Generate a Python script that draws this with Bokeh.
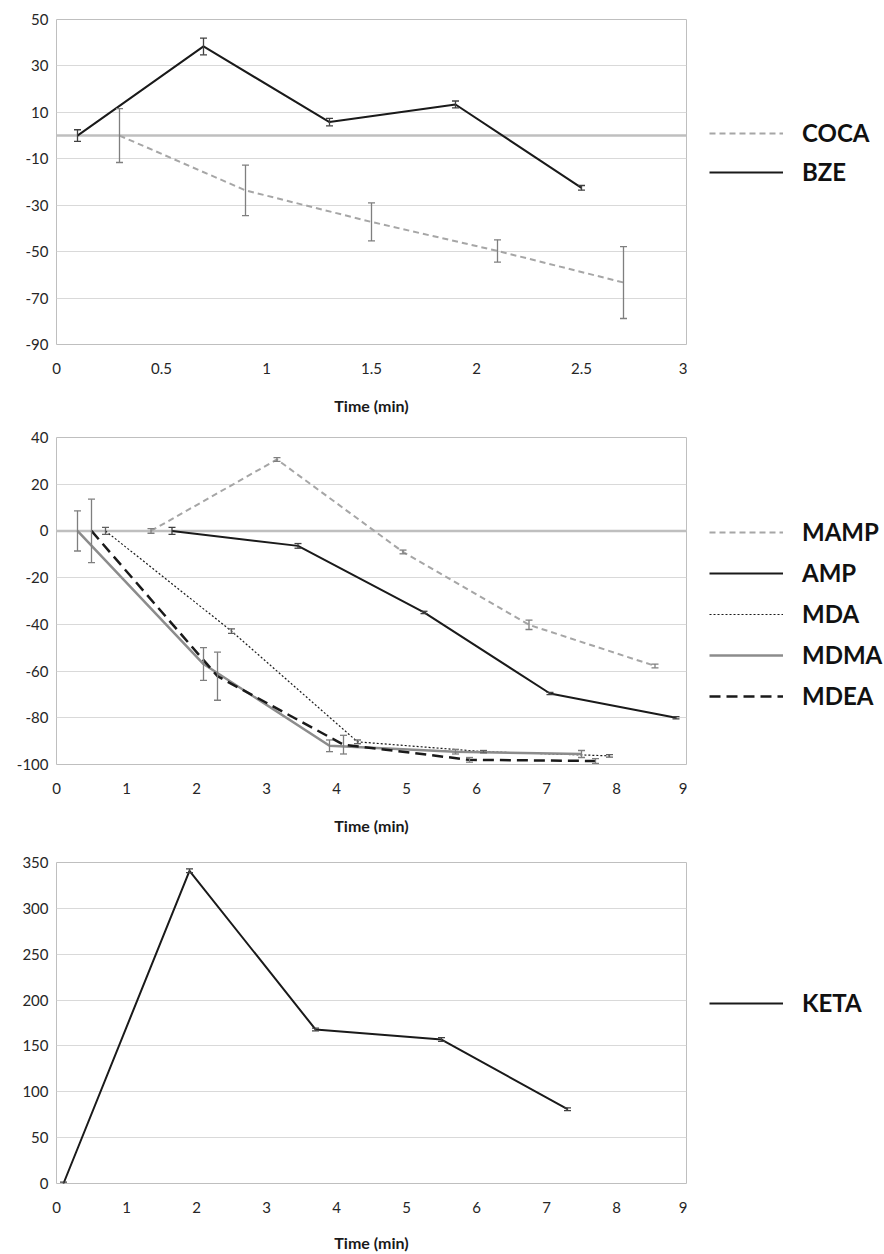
from bokeh.plotting import figure
from bokeh.models import Range1d, FixedTicker, Whisker, ColumnDataSource, Span, TeeHead, Legend, LegendItem
from bokeh.layouts import column, row
from bokeh.embed import file_html
from bokeh.resources import INLINE

# ---------------- data ----------------
# Panel 1
top_xticks = [0, 0.5, 1, 1.5, 2, 2.5, 3]
top_xlabels = ["0", "0.5", "1", "1.5", "2", "2.5", "3"]
top_yticks = [-90, -70, -50, -30, -10, 10, 30, 50]
top_ylabels = ["-90", "-70", "-50", "-30", "-10", "10", "30", "50"]

coca_x = [0.3, 0.9, 1.5, 2.1, 2.7]
coca_y = [0, -23.6, -37.2, -49.7, -63.3]
coca_err = [11.6, 10.9, 8.2, 4.8, 15.5]

bze_x = [0.1, 0.7, 1.3, 1.9, 2.5]
bze_y = [0, 38.4, 5.8, 13.4, -22.5]
bze_err = [2.5, 3.6, 1.6, 1.5, 1.0]

# Panel 2
mid_xticks = [0, 1, 2, 3, 4, 5, 6, 7, 8, 9]
mid_xlabels = ["0", "1", "2", "3", "4", "5", "6", "7", "8", "9"]
mid_yticks = [-100, -80, -60, -40, -20, 0, 20, 40]
mid_ylabels = ["-100", "-80", "-60", "-40", "-20", "0", "20", "40"]

mamp_x = [1.35, 3.15, 4.95, 6.75, 8.55]
mamp_y = [0, 30.6, -9.0, -40.2, -57.8]
mamp_err = [1.0, 0.8, 0.8, 2.0, 0.8]

amp_x = [1.65, 3.45, 5.25, 7.05, 8.85]
amp_y = [0, -6.4, -34.9, -69.6, -80.0]
amp_err = [1.5, 1.0, 0.5, 0.5, 0.5]

mda_x = [0.7, 2.5, 4.3, 6.1, 7.9]
mda_y = [0, -42.9, -90.3, -94.5, -96.3]
mda_err = [1.5, 1.0, 0.8, 0.5, 0.5]

mdma_x = [0.3, 2.1, 3.9, 5.7, 7.5]
mdma_y = [0, -57.0, -92.0, -94.5, -95.5]
mdma_err = [8.6, 7.0, 2.5, 1.0, 1.5]

mdea_x = [0.5, 2.3, 4.1, 5.9, 7.7]
mdea_y = [0, -62.2, -91.5, -98.0, -98.5]
mdea_err = [13.6, 10.3, 4.0, 1.0, 1.0]

# Panel 3
bot_xticks = [0, 1, 2, 3, 4, 5, 6, 7, 8, 9]
bot_xlabels = ["0", "1", "2", "3", "4", "5", "6", "7", "8", "9"]
bot_yticks = [0, 50, 100, 150, 200, 250, 300, 350]
bot_ylabels = ["0", "50", "100", "150", "200", "250", "300", "350"]

keta_x = [0.1, 1.9, 3.7, 5.5, 7.3]
keta_y = [0, 341, 168, 157, 81]
keta_err = [1.5, 2.0, 1.5, 2.0, 1.5]

x_title = "Time (min)"

FONT = "Lato"
GRID = "#d9d9d9"
ZERO = "#bfbfbf"
LGREY = "#a6a6a6"
DGREY = "#8c8c8c"
BLACK = "#1a1a1a"

CHART_W = 687
LEG_W = 884 - CHART_W


def make_fig(height, btop, bbottom, xr, yr, xticks, xlabels, yticks, ylabels, title_standoff):
    p = figure(width=CHART_W, height=height, x_range=Range1d(*xr), y_range=Range1d(*yr),
               output_backend="svg", toolbar_location=None,
               min_border_left=56, min_border_right=1,
               min_border_top=btop, min_border_bottom=bbottom)
    p.outline_line_color = ZERO
    p.outline_line_width = 1
    p.xgrid.grid_line_color = None
    p.ygrid.grid_line_color = GRID
    p.ygrid.grid_line_width = 1
    p.xaxis.ticker = FixedTicker(ticks=xticks)
    p.xaxis.major_label_overrides = {t: l for t, l in zip(xticks, xlabels)}
    p.yaxis.ticker = FixedTicker(ticks=yticks)
    p.yaxis.major_label_overrides = {t: l for t, l in zip(yticks, ylabels)}
    for ax in (p.xaxis, p.yaxis):
        ax.axis_line_color = None
        ax.major_tick_line_color = None
        ax.minor_tick_line_color = None
        ax.major_tick_in = 0
        ax.major_tick_out = 0
        ax.minor_tick_out = 0
        ax.major_label_text_font = FONT
        ax.major_label_text_font_size = "15px"
        ax.major_label_text_color = "#262626"
    p.xaxis.major_label_standoff = 18
    p.yaxis.major_label_standoff = 8
    p.xaxis.axis_label = x_title
    p.xaxis.axis_label_text_font = FONT
    p.xaxis.axis_label_text_font_style = "bold"
    p.xaxis.axis_label_text_font_size = "16px"
    p.xaxis.axis_label_text_color = "#1a1a1a"
    p.xaxis.axis_label_standoff = title_standoff
    return p


def add_series(p, x, y, err, color, width, dash, err_color):
    p.line(x, y, line_color=color, line_width=width, line_dash=dash)
    src = ColumnDataSource(dict(base=x, upper=[a + b for a, b in zip(y, err)],
                                lower=[a - b for a, b in zip(y, err)]))
    w = Whisker(source=src, base="base", upper="upper", lower="lower",
                line_color=err_color, line_width=1.3, level="annotation",
                upper_head=TeeHead(size=7, line_color=err_color, line_width=1.3),
                lower_head=TeeHead(size=7, line_color=err_color, line_width=1.3))
    p.add_layout(w)


def legend_fig(height, entries, loc, spacing):
    # separate, axis-less figure that only holds the legend (to the right of the chart);
    # its ranges keep the series' own lines out of view so only the legend shows
    lf = figure(width=LEG_W, height=height, x_range=Range1d(1000, 1001), y_range=Range1d(1000, 1001),
                output_backend="svg", toolbar_location=None,
                x_axis_location=None, y_axis_location=None,
                min_border_left=0, min_border_right=0, min_border_top=0, min_border_bottom=0)
    lf.grid.grid_line_color = None
    lf.outline_line_color = None
    items = []
    for label, x, y, color, width, dash in entries:
        r = lf.line(x, y, line_color=color, line_width=width, line_dash=dash)
        items.append(LegendItem(label=label, renderers=[r]))
    lg = Legend(items=items, location=loc, border_line_color=None, background_fill_alpha=0,
                padding=0, margin=0, spacing=spacing, glyph_width=74, glyph_height=24,
                label_height=24, label_standoff=19, label_text_font=FONT,
                label_text_font_style="bold", label_text_font_size="24px",
                label_text_color="#111111")
    lf.add_layout(lg)
    return lf


# ---------------- panel 1 ----------------
H1, H2, H3 = 422, 416, 416
p1 = make_fig(H1, 19, 78, (0, 3), (-90, 50), top_xticks, top_xlabels, top_yticks, top_ylabels, 19)
p1.add_layout(Span(location=0, dimension="width", line_color=ZERO, line_width=2.5, level="underlay"))
add_series(p1, coca_x, coca_y, coca_err, LGREY, 2, "6 4", "#7f7f7f")
add_series(p1, bze_x, bze_y, bze_err, BLACK, 2, "solid", "#404040")
l1 = legend_fig(H1, [("COCA", coca_x, coca_y, LGREY, 2, "6 4"),
                     ("BZE", bze_x, bze_y, BLACK, 2, "solid")], (22, 158), 10)

# ---------------- panel 2 ----------------
p2 = make_fig(H2, 15, 74, (0, 9), (-100, 40), mid_xticks, mid_xlabels, mid_yticks, mid_ylabels, 19)
p2.add_layout(Span(location=0, dimension="width", line_color=ZERO, line_width=2.5, level="underlay"))
add_series(p2, mamp_x, mamp_y, mamp_err, LGREY, 2, "6 4", "#7f7f7f")
add_series(p2, amp_x, amp_y, amp_err, BLACK, 2, "solid", "#404040")
add_series(p2, mda_x, mda_y, mda_err, BLACK, 1.2, "2 2", "#606060")
add_series(p2, mdma_x, mdma_y, mdma_err, DGREY, 2.5, "solid", "#7f7f7f")
add_series(p2, mdea_x, mdea_y, mdea_err, BLACK, 2.5, "11 6", "#7f7f7f")
l2 = legend_fig(H2, [("MAMP", mamp_x, mamp_y, LGREY, 2, "6 4"),
                     ("AMP", amp_x, amp_y, BLACK, 2, "solid"),
                     ("MDA", mda_x, mda_y, BLACK, 1.2, "2 2"),
                     ("MDMA", mdma_x, mdma_y, DGREY, 2.5, "solid"),
                     ("MDEA", mdea_x, mdea_y, BLACK, 2.5, "11 6")], (22, 54), 12)

# ---------------- panel 3 ----------------
p3 = make_fig(H3, 24, 68, (0, 9), (0, 350), bot_xticks, bot_xlabels, bot_yticks, bot_ylabels, 17)
add_series(p3, keta_x, keta_y, keta_err, BLACK, 2, "solid", "#404040")
l3 = legend_fig(H3, [("KETA", keta_x, keta_y, BLACK, 2, "solid")], (22, 166), 12)

layout = column(row(p1, l1, spacing=0), row(p2, l2, spacing=0), row(p3, l3, spacing=0), spacing=0)
open("out.html", "w").write(file_html(layout, INLINE))
